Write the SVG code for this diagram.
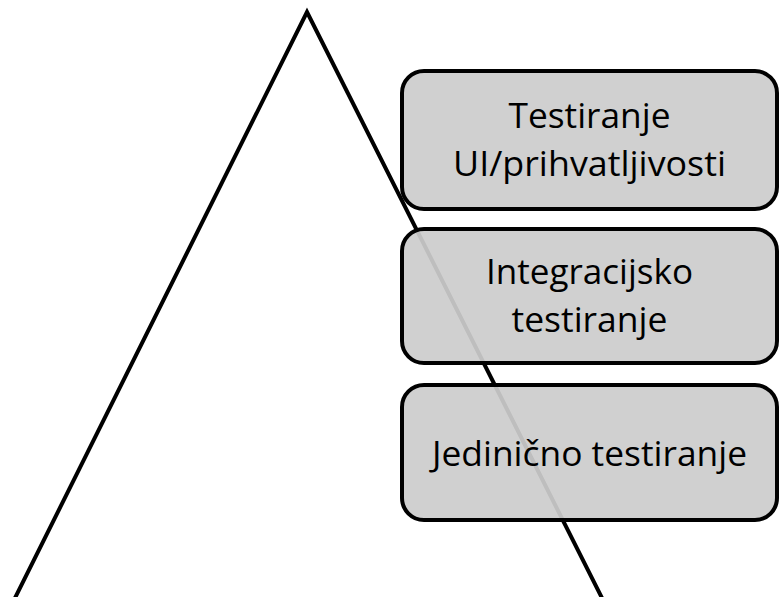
<svg xmlns="http://www.w3.org/2000/svg" width="779" height="597" viewBox="0 0 779 597">
  <style>
    .box { fill: #cccccc; fill-opacity: 0.93; stroke: #000000; stroke-width: 4; }
    .label { font-family: "Open Sans", "Noto Sans", sans-serif; font-size: 34px; fill: #000000; text-anchor: middle; }
    .edge { fill: none; stroke: #000000; stroke-width: 4; stroke-linejoin: miter; stroke-miterlimit: 20; }
  </style>
  <rect width="779" height="597" fill="#ffffff"/>
  <g id="pyramid">
    <polyline class="edge" points="14,600 307,12 603,600"/>
  </g>
  <g id="node-ui">
    <rect class="box" x="402" y="71" width="375" height="138" rx="22" ry="22"/>
    <text class="label" x="589.5" y="128" textLength="162" lengthAdjust="spacingAndGlyphs">Testiranje</text>
    <text class="label" x="589.5" y="176" textLength="273" lengthAdjust="spacingAndGlyphs">UI/prihvatljivosti</text>
  </g>
  <g id="node-integration">
    <rect class="box" x="402" y="229" width="375" height="134" rx="22" ry="22"/>
    <text class="label" x="589.5" y="284" textLength="207" lengthAdjust="spacingAndGlyphs">Integracijsko</text>
    <text class="label" x="589.5" y="332" textLength="156" lengthAdjust="spacingAndGlyphs">testiranje</text>
  </g>
  <g id="node-unit">
    <rect class="box" x="402" y="385" width="375" height="135" rx="22" ry="22"/>
    <text class="label" x="589.5" y="466" textLength="315" lengthAdjust="spacingAndGlyphs">Jedinično testiranje</text>
  </g>
</svg>
